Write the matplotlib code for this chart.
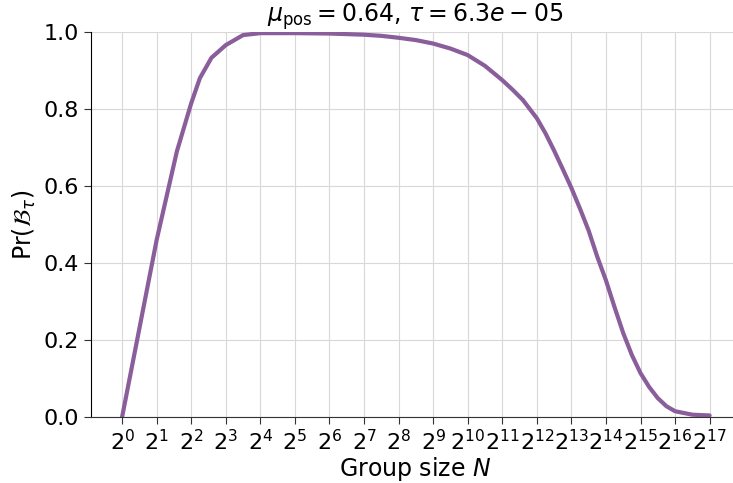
import matplotlib
matplotlib.use("Agg")
import matplotlib.pyplot as plt
import numpy as np

# group sizes (as powers of two) and probability
log2_n = [0, 1, 1.585, 2, 2.25, 2.585, 3, 3.5, 4, 5, 6, 7, 7.5, 8, 8.5,
          9, 9.5, 10, 10.5, 11, 11.3, 11.6, 12, 12.25, 12.5, 12.75, 13,
          13.25, 13.5, 13.75, 14, 14.25, 14.5, 14.75, 15, 15.25, 15.5,
          15.75, 16, 16.5, 17]
prob = [0.0, 0.46, 0.69, 0.815, 0.88, 0.933, 0.966, 0.992, 0.997, 0.997,
        0.996, 0.993, 0.99, 0.985, 0.979, 0.970, 0.957, 0.940, 0.912, 0.875,
        0.85, 0.823, 0.776, 0.737, 0.692, 0.644, 0.595, 0.541, 0.484, 0.416,
        0.355, 0.285, 0.218, 0.161, 0.114, 0.078, 0.049, 0.028, 0.015,
        0.006, 0.004]
tick_pows = list(range(0, 18))

N = 2.0 ** np.array(log2_n)

fig = plt.figure(figsize=(7.33, 4.83), dpi=100)
ax = fig.add_axes([91 / 733, 66 / 483, 648 / 733, 385 / 483])

ax.plot(N, prob, color="#8a5d9b", lw=3, solid_capstyle="round",
        solid_joinstyle="round")
ax.set_xscale("log", base=2)
ax.set_xticks([2.0 ** p for p in tick_pows])
ax.set_xticklabels([rf"$2^{{{p}}}$" for p in tick_pows])
ax.minorticks_off()
ax.set_xlim(2 ** -0.9, 2 ** 17.85)
ax.set_ylim(0, 1)
ax.set_yticks([0, 0.2, 0.4, 0.6, 0.8, 1.0])

ax.grid(True, color="#d8d8d8", lw=0.8)
ax.set_axisbelow(True)
for s in ["top", "right"]:
    ax.spines[s].set_visible(False)
ax.spines["bottom"].set_color("#333333")
ax.spines["left"].set_color("black")
ax.tick_params(labelsize=16, length=5, color="#333333")

ax.set_xlabel("Group size $N$", fontsize=17, labelpad=1)
ax.set_ylabel(r"Pr($\mathcal{B}_\tau$)", fontsize=17)
ax.set_title(r"$\mu_{\mathrm{pos}} = 0.64$, $\tau = 6.3e-05$", fontsize=17, pad=5)

fig.savefig("out.png", dpi=100)
